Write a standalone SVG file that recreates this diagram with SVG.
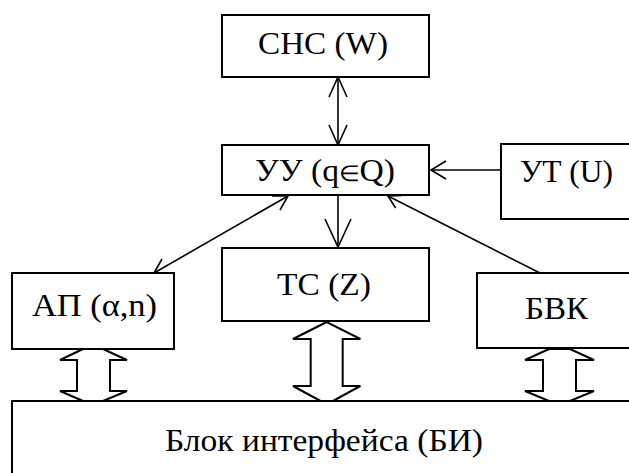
<svg xmlns="http://www.w3.org/2000/svg" width="629" height="473" viewBox="0 0 629 473">
  <style>
    .box { fill: #fff; stroke: #000; stroke-width: 2; }
    .lbl { font-family: "Liberation Serif", "Times New Roman", serif; font-size: 31px; fill: #000; }
    .ln { fill: none; stroke: #000; stroke-width: 1.6; }
    .bus { fill: #fff; stroke: #000; stroke-width: 2; stroke-linejoin: miter; }
    .sm { font-size: 22px; }
  </style>
  <rect width="629" height="473" fill="#fff"/>

  <!-- connectors -->
  <g id="connectors">
    <!-- СНС <-> УУ -->
    <line class="ln" x1="338" y1="77" x2="338" y2="145"/>
    <path class="ln" d="M329 97 L338 77 L347 97 M329 125 L338 145 L347 125"/>
    <!-- УУ -> ТС -->
    <line class="ln" x1="338" y1="195" x2="338" y2="247"/>
    <path class="ln" d="M325 219 L338 247 L351 219"/>
    <!-- УТ -> УУ -->
    <line class="ln" x1="501" y1="170" x2="431" y2="170"/>
    <path class="ln" d="M446 161 L431 170 L446 179"/>
    <!-- УУ <-> АП -->
    <line class="ln" x1="288" y1="196" x2="154" y2="273"/>
    <path class="ln" d="M272 196 L288 196 L280 210 M162 259 L154 273 L170 273"/>
    <!-- БВК -> УУ -->
    <line class="ln" x1="540" y1="273" x2="388" y2="196"/>
    <path class="ln" d="M395.6 208 L388 196 L402 195.5"/>
    <!-- bus arrows to the interface block -->
    <polygon class="bus" points="83,349 60,360 77,360 77,391 60,391 83,401 103,401 127,391 110,391 110,360 127,360 103,349"/>
    <polygon class="bus" points="326.7,322 293,339 310.7,339 310.7,386 293,386 320.5,401 333,401 360.4,386 342.7,386 342.7,339 360.4,339"/>
    <polygon class="bus" points="549,349 525,360 543,360 543,391 525,391 549,401 570,401 594,391 576,391 576,360 594,360 570,349"/>
  </g>

  <g id="snc">
    <rect class="box" x="222" y="15" width="207" height="62"/>
    <text class="lbl" x="258" y="54" textLength="130" lengthAdjust="spacingAndGlyphs">СНС (W)</text>
  </g>
  <g id="uu">
    <rect class="box" x="222" y="145" width="207" height="50"/>
    <text class="lbl" x="255" y="181" textLength="140" lengthAdjust="spacingAndGlyphs">УУ (q<tspan class="sm">∈</tspan>Q)</text>
  </g>
  <g id="ut">
    <rect class="box" x="501" y="144" width="140" height="75"/>
    <text class="lbl" x="520" y="182" textLength="93" lengthAdjust="spacingAndGlyphs">УТ (U)</text>
  </g>
  <g id="ts">
    <rect class="box" x="222" y="248" width="207" height="73"/>
    <text class="lbl" x="277" y="295" textLength="94" lengthAdjust="spacingAndGlyphs">ТС (Z)</text>
  </g>
  <g id="ap">
    <rect class="box" x="12" y="273" width="162" height="76"/>
    <text class="lbl" x="32" y="316" textLength="125" lengthAdjust="spacingAndGlyphs">АП (α,n)</text>
  </g>
  <g id="bvk">
    <rect class="box" x="477" y="273" width="164" height="75"/>
    <text class="lbl" x="525" y="319" textLength="63" lengthAdjust="spacingAndGlyphs">БВК</text>
  </g>
  <g id="bi">
    <rect class="box" x="12" y="401" width="629" height="80"/>
    <text class="lbl" x="165" y="451" textLength="318" lengthAdjust="spacingAndGlyphs">Блок интерфейса (БИ)</text>
  </g>
</svg>
